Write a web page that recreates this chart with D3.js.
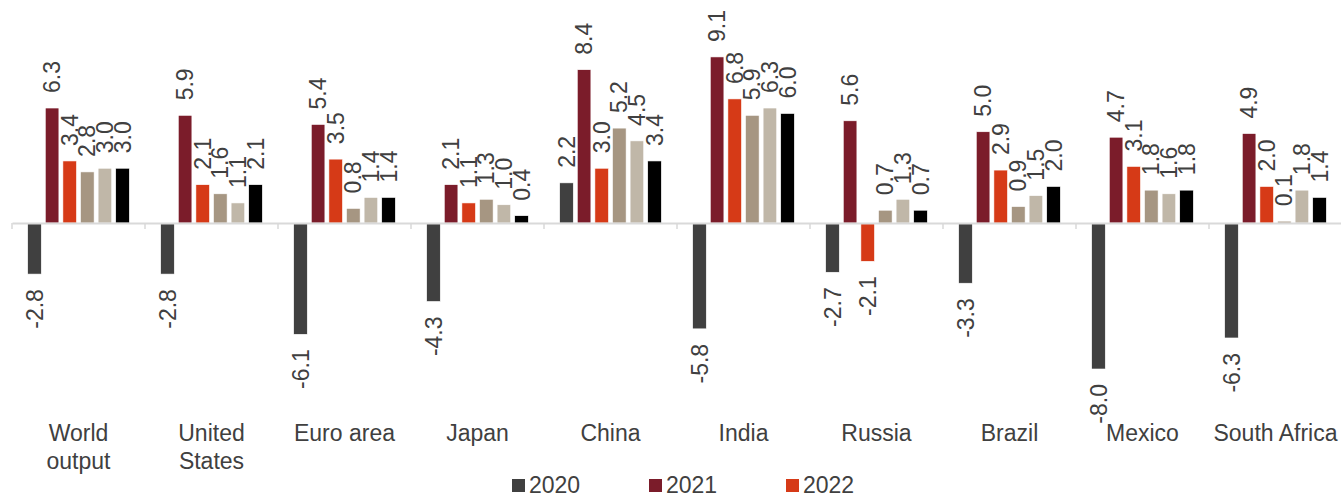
<!DOCTYPE html>
<html>
<head>
<meta charset="utf-8">
<script src="https://cdn.jsdelivr.net/npm/d3@7"></script>
<style>
  html, body { margin: 0; padding: 0; background: #fff; }
  svg { display: block; }
  text { font-family: "Liberation Sans", Arial, sans-serif; fill: #404040; }
</style>
</head>
<body>
<svg id="chart" width="1341" height="498"></svg>
<script>
// Real GDP growth, % (annual)
const categories = ["World output", "United States", "Euro area", "Japan", "China",
                    "India", "Russia", "Brazil", "Mexico", "South Africa"];
const categoryLines = [["World", "output"], ["United", "States"], ["Euro area"], ["Japan"], ["China"],
                       ["India"], ["Russia"], ["Brazil"], ["Mexico"], ["South Africa"]];
const seriesNames = ["2020", "2021", "2022", "2023P", "2024P", "2028P"];
const seriesColors = ["#404040", "#7b1c2a", "#d63a17", "#a69682", "#c0b7a8", "#000000"];
const legendNames = ["2020", "2021", "2022"];

const v2020  = [-2.8, -2.8, -6.1, -4.3, 2.2, -5.8, -2.7, -3.3, -8.0, -6.3];
const v2021  = [ 6.3,  5.9,  5.4,  2.1, 8.4,  9.1,  5.6,  5.0,  4.7,  4.9];
const v2022  = [ 3.4,  2.1,  3.5,  1.1, 3.0,  6.8, -2.1,  2.9,  3.1,  2.0];
const v2023P = [ 2.8,  1.6,  0.8,  1.3, 5.2,  5.9,  0.7,  0.9,  1.8,  0.1];
const v2024P = [ 3.0,  1.1,  1.4,  1.0, 4.5,  6.3,  1.3,  1.5,  1.6,  1.8];
const v2028P = [ 3.0,  2.1,  1.4,  0.4, 3.4,  6.0,  0.7,  2.0,  1.8,  1.4];
const seriesValues = [v2020, v2021, v2022, v2023P, v2024P, v2028P];

const svg = d3.select("#chart");
const fontSize = 23;

const x = d3.scaleBand().domain(categories).range([12, 1342]).padding(0);
const xs = d3.scaleBand().domain(seriesNames).range([0, x.bandwidth()])
  .paddingInner(0.227).paddingOuter(0.89);
const y = d3.scaleLinear().domain([-10, 10]).range([405.5, 40.5]);

const rows = [];
categories.forEach((c, i) => {
  seriesNames.forEach((s, j) => {
    rows.push({ cat: c, series: s, color: seriesColors[j], value: seriesValues[j][i] });
  });
});

// bars
svg.append("g").selectAll("rect").data(rows).join("rect")
  .attr("x", d => x(d.cat) + xs(d.series))
  .attr("width", xs.bandwidth())
  .attr("y", d => y(Math.max(0, d.value)))
  .attr("height", d => Math.abs(y(d.value) - y(0)))
  .attr("fill", d => d.color)
  .attr("stroke", "#ffffff")
  .attr("stroke-width", 0.6);

// zero axis with category dividers
const axisG = svg.append("g").attr("transform", `translate(0,${y(0)})`);
axisG.call(d3.axisBottom(x).tickSize(0).tickFormat(""));
axisG.select(".domain").attr("stroke", "#d9d9d9").attr("stroke-width", 2);
const bounds = categories.map(c => x(c)).concat([x.range()[1]]);
axisG.selectAll("line.divider").data(bounds).join("line")
  .attr("class", "divider")
  .attr("x1", d => d).attr("x2", d => d)
  .attr("y1", 0).attr("y2", 6)
  .attr("stroke", "#d9d9d9").attr("stroke-width", 1.5);

// value labels, rotated; plain hyphen for negatives
const fmt = v => v.toFixed(1);
const gap = 15;
svg.append("g").selectAll("text").data(rows).join("text")
  .attr("transform", d => {
    const cx = x(d.cat) + xs(d.series) + xs.bandwidth() / 2;
    const yy = d.value >= 0 ? y(d.value) - gap : y(d.value) + gap;
    return `translate(${cx},${yy}) rotate(-90)`;
  })
  .attr("dy", "0.35em")
  .attr("text-anchor", d => d.value >= 0 ? "start" : "end")
  .style("font-size", fontSize + "px")
  .text(d => fmt(d.value));

// category labels
const catG = svg.append("g").selectAll("text").data(categories).join("text")
  .attr("x", d => x(d) + x.bandwidth() / 2)
  .attr("y", 441)
  .attr("text-anchor", "middle")
  .style("font-size", fontSize + "px");
catG.selectAll("tspan").data((d, i) => categoryLines[i]).join("tspan")
  .attr("x", function () { return d3.select(this.parentNode).attr("x"); })
  .attr("dy", (d, i) => i === 0 ? 0 : 28)
  .text(d => d);

// legend
const legend = svg.append("g");
const item = legend.selectAll("g").data(legendNames).join("g")
  .attr("transform", (d, i) => `translate(${512 + i * 137},479)`);
item.append("rect").attr("width", 13).attr("height", 13)
  .attr("fill", (d, i) => seriesColors[i]);
item.append("text").attr("x", 17).attr("y", 13.5)
  .style("font-size", fontSize + "px")
  .text(d => d);
</script>
</body>
</html>
